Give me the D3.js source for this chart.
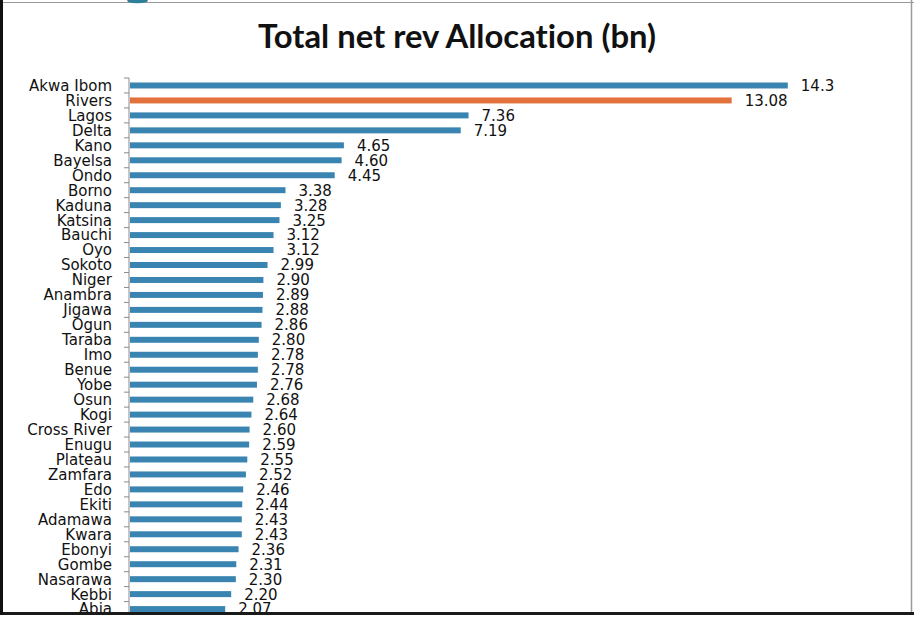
<!DOCTYPE html>
<html>
<head>
<meta charset="utf-8">
<script src="https://cdn.jsdelivr.net/npm/d3@7/dist/d3.min.js"></script>
<style>
  html, body { margin: 0; padding: 0; background: #fff; }
  svg { display: block; }
  text { font-variant-ligatures: none; }
</style>
</head>
<body>
<svg id="chart" width="914" height="617"></svg>
<script>
// States, in chart order (largest allocation first)
const states = [
  "Akwa Ibom", "Rivers", "Lagos", "Delta", "Kano", "Bayelsa", "Ondo", "Borno",
  "Kaduna", "Katsina", "Bauchi", "Oyo", "Sokoto", "Niger", "Anambra", "Jigawa",
  "Ogun", "Taraba", "Imo", "Benue", "Yobe", "Osun", "Kogi", "Cross River",
  "Enugu", "Plateau", "Zamfara", "Edo", "Ekiti", "Adamawa", "Kwara", "Ebonyi",
  "Gombe", "Nasarawa", "Kebbi", "Abia"
];

// Total net revenue allocation, billion naira
const allocation = [
  14.3, 13.08, 7.36, 7.19, 4.65, 4.60, 4.45, 3.38,
  3.28, 3.25, 3.12, 3.12, 2.99, 2.90, 2.89, 2.88,
  2.86, 2.80, 2.78, 2.78, 2.76, 2.68, 2.64, 2.60,
  2.59, 2.55, 2.52, 2.46, 2.44, 2.43, 2.43, 2.36,
  2.31, 2.30, 2.20, 2.07
];

// Printed form of each data label
const valueLabels = [
  "14.3", "13.08", "7.36", "7.19", "4.65", "4.60", "4.45", "3.38",
  "3.28", "3.25", "3.12", "3.12", "2.99", "2.90", "2.89", "2.88",
  "2.86", "2.80", "2.78", "2.78", "2.76", "2.68", "2.64", "2.60",
  "2.59", "2.55", "2.52", "2.46", "2.44", "2.43", "2.43", "2.36",
  "2.31", "2.30", "2.20", "2.07"
];

const highlighted = ["Rivers"];

const rows = states.map((s, i) => ({ state: s, value: allocation[i], label: valueLabels[i] }));

const svg = d3.select("#chart");
const W = 914, H = 617;

const axisX = 129;
const x = d3.scaleLinear().domain([0, 15]).range([axisX + 1, axisX + 1 + 15 * 46]);

const plotTop = 78, rowStep = 14.96;
const y = d3.scaleBand()
  .domain(states)
  .range([plotTop, plotTop + rowStep * states.length])
  .paddingInner(0.6)
  .paddingOuter(0.3);

const BLUE = "#3a84b1";
const ORANGE = "#e2713c";

// Title
const title = svg.append("text")
  .attr("x", 457)
  .attr("y", 48)
  .attr("text-anchor", "middle")
  .style("font-family", "Lato, 'Open Sans', sans-serif")
  .style("font-weight", "700")
  .style("font-size", "30px")
  .attr("fill", "#111")
  .text("Total net rev Allocation (bn)");
const tw = title.node().getComputedTextLength();
title.style("font-size", (30 * 398 / tw).toFixed(2) + "px");

// Bars
svg.append("g").selectAll("rect")
  .data(rows)
  .join("rect")
  .attr("x", x(0))
  .attr("y", d => y(d.state))
  .attr("width", d => x(d.value) - x(0))
  .attr("height", y.bandwidth())
  .attr("fill", d => highlighted.includes(d.state) ? ORANGE : BLUE);

// Data labels
svg.append("g").selectAll("text")
  .data(rows)
  .join("text")
  .attr("x", d => x(d.value) + 13)
  .attr("y", d => y(d.state) + y.bandwidth() / 2)
  .attr("dy", "0.36em")
  .style("font-family", "'DejaVu Sans', Verdana, sans-serif")
  .style("font-size", "15px")
  .attr("fill", "#111")
  .text(d => d.label);

// Category axis: vertical line with ticks between categories
const axis = svg.append("g");
axis.append("line")
  .attr("x1", axisX).attr("x2", axisX)
  .attr("y1", plotTop).attr("y2", plotTop + rowStep * states.length)
  .attr("stroke", "#8a8a8a").attr("stroke-width", 1);
axis.selectAll("line.tick")
  .data(d3.range(states.length + 1))
  .join("line")
  .attr("class", "tick")
  .attr("x1", axisX - 5).attr("x2", axisX)
  .attr("y1", i => plotTop + i * y.step())
  .attr("y2", i => plotTop + i * y.step())
  .attr("stroke", "#8a8a8a").attr("stroke-width", 1);
axis.selectAll("text")
  .data(rows)
  .join("text")
  .attr("x", 112)
  .attr("y", d => y(d.state) + y.bandwidth() / 2)
  .attr("dy", "0.36em")
  .attr("text-anchor", "end")
  .style("font-family", "'DejaVu Sans', Verdana, sans-serif")
  .style("font-size", "15px")
  .attr("fill", "#111")
  .text(d => d.state);

// Frame around the slide
svg.append("rect").attr("x", 0).attr("y", 612).attr("width", W).attr("height", H - 612).attr("fill", "#fff");
svg.append("line").attr("x1", 0).attr("x2", W).attr("y1", 613.5).attr("y2", 613.5)
  .attr("stroke", "#1a1a1a").attr("stroke-width", 3);
svg.append("line").attr("x1", 1.5).attr("x2", 1.5).attr("y1", 0).attr("y2", 615)
  .attr("stroke", "#111").attr("stroke-width", 3);
svg.append("line").attr("x1", 3).attr("x2", W).attr("y1", 2.5).attr("y2", 2.5)
  .attr("stroke", "#9a9a9a").attr("stroke-width", 1);
svg.append("line").attr("x1", 911.5).attr("x2", 911.5).attr("y1", 0).attr("y2", 612)
  .attr("stroke", "#9a9a9a").attr("stroke-width", 1.5);
svg.append("path")
  .attr("d", "M127,0 L148,0 L147,2 Q137,4.5 128,2 Z")
  .attr("fill", "#2d7f9c");
</script>
</body>
</html>
